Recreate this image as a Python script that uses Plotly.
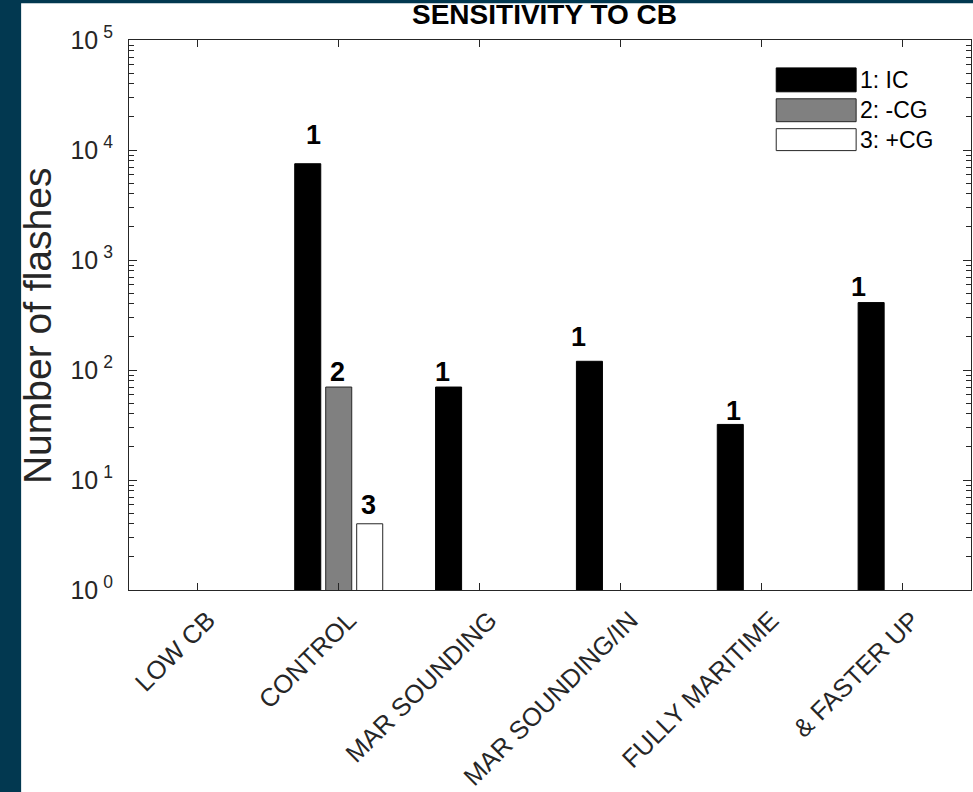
import math
import plotly.graph_objects as go

# ---------------- data ----------------
categories = ["LOW CB", "CONTROL", "MAR SOUNDING", "MAR SOUNDING/IN", "FULLY MARITIME", "& FASTER UP"]
ic_flashes = [None, 7500, 70, 120, 32, 410]
neg_cg_flashes = [None, 70, None, None, None, None]
pos_cg_flashes = [None, 4, None, None, None, None]
series_names = ["1: IC", "2: -CG", "3: +CG"]
series_tags = ["1", "2", "3"]
y_tick_values = [1, 10, 100, 1000, 10000, 100000]
y_tick_labels = ["10\u2009<sup>0</sup>", "10\u2009<sup>1</sup>", "10\u2009<sup>2</sup>",
                 "10\u2009<sup>3</sup>", "10\u2009<sup>4</sup>", "10\u2009<sup>5</sup>"]

# label nudges (pixels) for the number tags above bars
ic_tag_dx = [0, 6, -6, -11, 3, -13]
ic_tag_dy = [0, 29, 15, 24, 13, 16]
neg_tag_dx = [0, -1, 0, 0, 0, 0]
neg_tag_dy = [0, 15, 0, 0, 0, 0]
pos_tag_dx = [0, -1, 0, 0, 0, 0]
pos_tag_dy = [0, 19, 0, 0, 0, 0]

# ---------------- style ----------------
FONT = "Arial, Liberation Sans, Helvetica, sans-serif"
AX = "#262626"
BG_DARK = "#023850"
fills = ["#000000", "#808080", "#ffffff"]
edges = ["#000000", "#262626", "#262626"]

W, H = 973, 792
L, R, T, B = 129, 1, 40, 200
pw, ph = W - L - R, H - T - B

def px2x(px):
    return (px - L) / pw

def py2y(py):
    return (H - B - py) / ph

bargap = 0.34
bargroupgap = 0.16
slot = (1 - bargap) / 3

series = [ic_flashes, neg_cg_flashes, pos_cg_flashes]
tag_dx = [ic_tag_dx, neg_tag_dx, pos_tag_dx]
tag_dy = [ic_tag_dy, neg_tag_dy, pos_tag_dy]

fig = go.Figure()
for i, vals in enumerate(series):
    fig.add_trace(go.Bar(
        x=categories, y=vals, name=series_names[i],
        marker=dict(color=fills[i], line=dict(color=edges[i], width=1)),
        showlegend=False,
    ))

annotations = []
for i, vals in enumerate(series):
    off = (i - 1) * slot
    for j, v in enumerate(vals):
        if v is None:
            continue
        annotations.append(dict(
            x=j + off, y=math.log10(v), xref="x", yref="y",
            text="<b>%s</b>" % series_tags[i], showarrow=False,
            xanchor="center", yanchor="middle",
            xshift=tag_dx[i][j], yshift=tag_dy[i][j],
            font=dict(family=FONT, size=27, color="#000000"),
        ))

# title
annotations.append(dict(
    x=px2x(545), y=py2y(14), xref="paper", yref="paper",
    text="<b>SENSITIVITY TO CB</b>", showarrow=False,
    xanchor="center", yanchor="middle",
    font=dict(family=FONT, size=28, color="#000000"),
))
# y-axis title
annotations.append(dict(
    x=px2x(38), y=py2y(327), xref="paper", yref="paper",
    text="Number of flashes", showarrow=False, textangle=-90,
    xanchor="center", yanchor="middle",
    font=dict(family=FONT, size=39, color=AX),
))

shapes = [
    # white figure panel over dark frame
    dict(type="rect", xref="paper", yref="paper", layer="below",
         x0=px2x(21), x1=px2x(W + 5), y0=py2y(H + 5), y1=py2y(3),
         fillcolor="#ffffff", line=dict(width=0)),
]

# custom legend
leg_rows = [(68, 92), (99, 122), (129, 151)]
for i, (ya, yb) in enumerate(leg_rows):
    shapes.append(dict(type="rect", xref="paper", yref="paper",
                       x0=px2x(777), x1=px2x(857), y0=py2y(yb), y1=py2y(ya),
                       fillcolor=fills[i], line=dict(color=edges[i], width=1)))
    annotations.append(dict(
        x=px2x(859), y=py2y((ya + yb) / 2), xref="paper", yref="paper",
        text=series_names[i], showarrow=False, xanchor="left", yanchor="middle",
        font=dict(family=FONT, size=23, color="#000000"),
    ))

minor_vals = [m * 10 ** d for d in range(5) for m in range(2, 10)]

fig.update_layout(
    width=W, height=H,
    margin=dict(l=L, r=R, t=T, b=B, pad=0),
    paper_bgcolor=BG_DARK, plot_bgcolor="#ffffff",
    barmode="group", bargap=bargap, bargroupgap=bargroupgap,
    font=dict(family=FONT, color=AX),
    annotations=annotations, shapes=shapes,
    showlegend=False,
)
fig.update_xaxes(
    type="category", range=[-0.489, 5.489],
    showline=True, linecolor=AX, linewidth=1, mirror="ticks",
    ticks="inside", ticklen=7, tickcolor=AX, tickwidth=1,
    tickangle=-45, tickfont=dict(family=FONT, size=25.5, color=AX),
    ticklabelstandoff=4, ticklabelshift=10,
    showgrid=False, zeroline=False,
)
fig.update_yaxes(
    type="log", range=[0, 5],
    tickvals=y_tick_values, ticktext=y_tick_labels,
    showline=True, linecolor=AX, linewidth=1, mirror="ticks",
    ticks="inside", ticklen=8, tickcolor=AX, tickwidth=1,
    tickfont=dict(family=FONT, size=25, color=AX),
    ticklabelstandoff=10,
    minor=dict(tickvals=minor_vals, ticks="inside", ticklen=5, tickcolor=AX, showgrid=False),
    showgrid=False, zeroline=False,
)

fig.write_html(
    "out.html",
    config={"displayModeBar": False},
    post_script="document.body.style.margin='0';document.body.style.padding='0';"
                "document.body.style.background='#023850';",
)
